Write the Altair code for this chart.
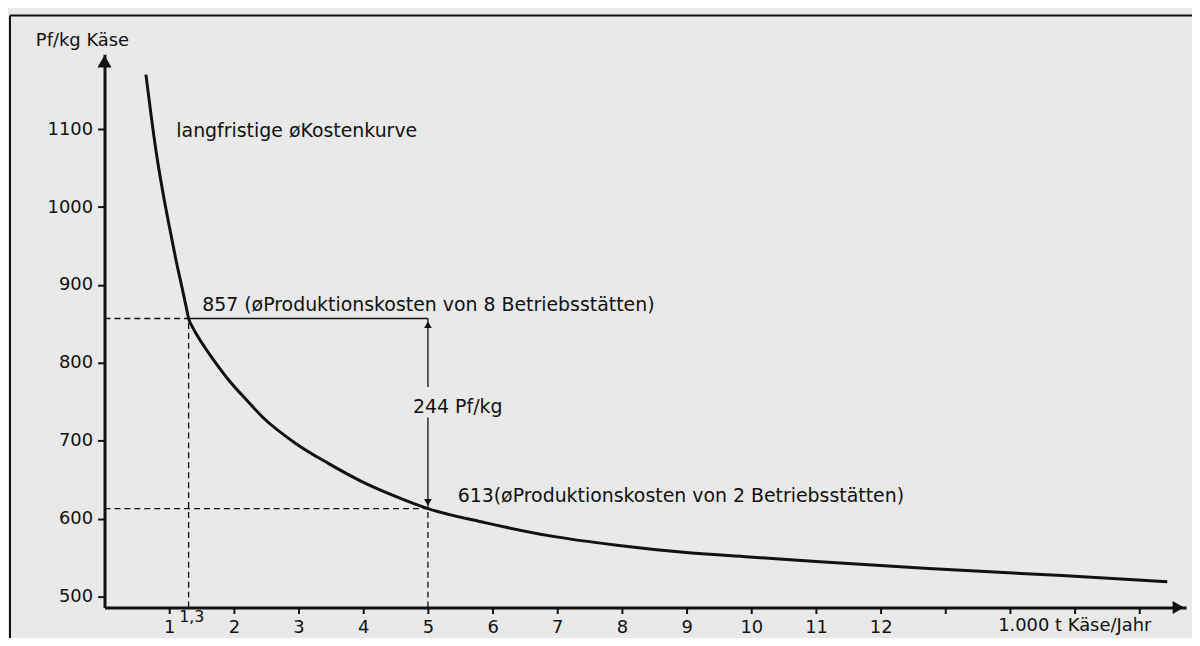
import altair as alt
import pandas as pd

# ---- data ----
curve_x = [0.64, 0.72, 0.80, 0.90, 1.00, 1.10, 1.20, 1.27, 1.30, 1.36, 1.45,
           1.65, 1.90, 2.20, 2.45, 2.95, 3.46, 3.97, 4.49, 5.00, 5.88, 6.89,
           7.92, 8.95, 9.97, 11.0, 12.74, 14.8, 16.43]
curve_y = [1170, 1118, 1070, 1020, 976, 934, 896, 869, 857, 846, 833,
           808, 780, 752, 730, 697, 671, 648, 629, 613, 595, 578,
           566, 557, 551, 545, 536, 527, 519]

y_ticks = [500, 600, 700, 800, 900, 1000, 1100]
x_ticks = list(range(1, 17))
x_last_labeled = 12

cost_8 = 857          # Pf/kg at 1.3 (8 plants)
cost_2 = 613          # Pf/kg at 5 (2 plants)
size_8 = 1.3
size_2 = 5
gap_label = "244 Pf/kg"

X_DOMAIN = [0, 16.72]
Y_DOMAIN = [486, 1196]

FONT = "DejaVu Sans"
INK = "#111111"

W, H = 1087, 556
PAD = {"left": 97, "top": 45, "right": 6, "bottom": 29}

xs = alt.Scale(domain=X_DOMAIN, nice=False, zero=False)
ys = alt.Scale(domain=Y_DOMAIN, nice=False, zero=False)

x_axis = alt.Axis(
    values=x_ticks, title=None, format="d",
    labelExpr=f"datum.value <= {x_last_labeled} ? datum.label : ''",
    labelPadding=5, labelFontSize=18, domainWidth=3, tickSize=6,
    labelBaseline="top")
y_axis = alt.Axis(
    values=y_ticks, title=None, format="d", labelPadding=5,
    labelFontSize=18, domainWidth=3, tickSize=7)

X = alt.X("x:Q", scale=xs, axis=x_axis)
Y = alt.Y("y:Q", scale=ys, axis=y_axis)

# ---- curve ----
curve_df = pd.DataFrame({"x": curve_x, "y": curve_y})
curve = alt.Chart(curve_df).mark_line(
    color=INK, strokeWidth=3, interpolate="monotone"
).encode(x=X, y=Y)

# ---- reference lines ----
y_floor = Y_DOMAIN[0]
dashed_df = pd.DataFrame({
    "x":  [0, size_8, 0, size_2],
    "x2": [size_8, size_8, size_2, size_2],
    "y":  [cost_8, y_floor, cost_2, y_floor],
    "y2": [cost_8, cost_8, cost_2, cost_2],
})
dashed = alt.Chart(dashed_df).mark_rule(
    color=INK, strokeWidth=1.3, strokeDash=[6, 4]
).encode(x=X, x2="x2:Q", y=Y, y2="y2:Q")

gap_mid_top = 769
gap_mid_bottom = 730
solid_df = pd.DataFrame({
    "x":  [size_8, size_2, size_2],
    "x2": [size_2, size_2, size_2],
    "y":  [cost_8, cost_8, gap_mid_bottom],
    "y2": [cost_8, gap_mid_top, cost_2],
})
solid = alt.Chart(solid_df).mark_rule(color=INK, strokeWidth=1.3).encode(
    x=X, x2="x2:Q", y=Y, y2="y2:Q")

# ---- arrow heads ----
heads_df = pd.DataFrame({
    "x": [size_2, size_2, 0, 16.6],
    "y": [cost_8 - 8, cost_2 + 8, 1187, y_floor],
    "shape": ["triangle-up", "triangle-down", "triangle-up", "triangle-right"],
    "size": [60, 60, 200, 170],
})
heads = alt.Chart(heads_df).mark_point(filled=True, color=INK, opacity=1).encode(
    x=X, y=Y,
    shape=alt.Shape("shape:N", scale=None),
    size=alt.Size("size:Q", scale=None),
)

# ---- annotations in data coordinates ----
ann_text = ["langfristige øKostenkurve",
            "857 (øProduktionskosten von 8 Betriebsstätten)",
            gap_label,
            "613(øProduktionskosten von 2 Betriebsstätten)"]
ann_x = [1.11, 1.51, 4.77, 5.46]
ann_y = [1097, 874, 744, 629]
ann_df = pd.DataFrame({"t": ann_text, "x": ann_x, "y": ann_y})
ann = alt.Chart(ann_df).mark_text(
    align="left", baseline="middle", font=FONT, fontSize=19, color=INK
).encode(x=X, y=Y, text="t:N")

# "1,3" label under the x axis
l13 = alt.Chart(pd.DataFrame({"t": ["1,3"], "x": [size_8 + 0.05]})).mark_text(
    align="center", baseline="middle", font=FONT, fontSize=16, color=INK
).encode(x=X, y=alt.value(H + 10), text="t:N")

# x-axis unit label
xunit = alt.Chart(pd.DataFrame({"t": ["1.000 t Käse/Jahr"], "x": [15.0]})).mark_text(
    align="center", baseline="middle", font=FONT, fontSize=18, color=INK
).encode(x=X, y=alt.value(H + 19), text="t:N")

# y-axis unit label
yunit = alt.Chart(pd.DataFrame({"t": ["Pf/kg Käse"]})).mark_text(
    align="left", baseline="middle", font=FONT, fontSize=18, color=INK
).encode(x=alt.value(-69), y=alt.value(-13), text="t:N")

# ---- outer frame ----
frame_left = alt.Chart(pd.DataFrame({"k": [0]})).mark_rule(color=INK, strokeWidth=2).encode(
    x=alt.value(-95), y=alt.value(-39), y2=alt.value(H + 100))
frame_top = alt.Chart(pd.DataFrame({"k": [0]})).mark_rule(color=INK, strokeWidth=2).encode(
    x=alt.value(-95), x2=alt.value(W + 100), y=alt.value(-39))

chart = alt.layer(
    curve, frame_left, frame_top, dashed, solid, heads, ann, l13, xunit, yunit
).properties(
    width=W, height=H, padding=PAD,
    autosize=alt.AutoSizeParams(type="none"),
    background="#e9e9e9",
).configure_view(stroke=None).configure_axis(
    domainColor=INK, tickColor=INK, tickWidth=2, labelColor=INK,
    labelFont=FONT, grid=False,
)

chart.save("out.html", embed_options={"renderer": "svg", "actions": False})
